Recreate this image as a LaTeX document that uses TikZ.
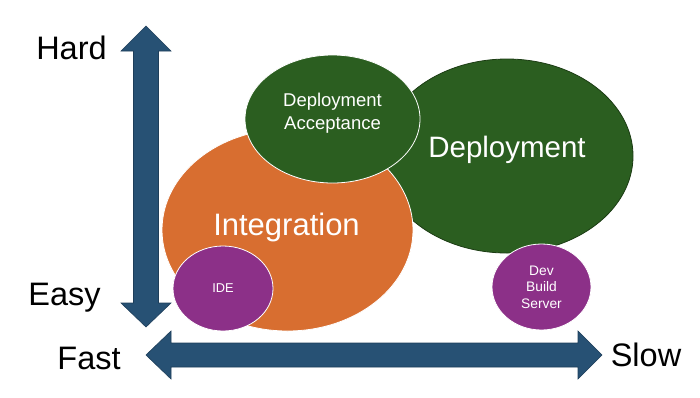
\documentclass[tikz,border=0pt]{standalone}
\usepackage{fontspec}
\setmainfont{Liberation Sans}
\usetikzlibrary{shapes.geometric}
\definecolor{arrowblue}{RGB}{39,81,116}
\definecolor{arrowedge}{RGB}{30,62,90}
\definecolor{intorange}{RGB}{216,110,48}
\definecolor{depgreen}{RGB}{43,94,32}
\definecolor{depedge}{RGB}{28,60,20}
\definecolor{idepurple}{RGB}{140,48,136}
\tikzset{
  blob/.style={ellipse, inner sep=0pt, text=white, align=center, draw=white, line width=0.8pt},
  blobtext/.style={text=white, align=center, inner sep=0pt},
  axisarrow/.style={fill=arrowblue, draw=arrowedge, line width=0.6pt, line join=miter},
  axislabel/.style={font=\fontsize{32.5}{36}\selectfont, text=black, inner sep=0pt}
}
\begin{document}
\begin{tikzpicture}[x=1pt,y=-1pt]
\useasboundingbox (0,0) rectangle (700,397);
% axes
\draw[axisarrow] (146,26) -- (171,51) -- (158.5,51) -- (158.5,303) -- (171,303) -- (146,327)
  -- (121,303) -- (133.5,303) -- (133.5,51) -- (121,51) -- cycle;
\draw[axisarrow] (146,355) -- (171,331) -- (171,343) -- (578,343) -- (578,331) -- (602,355)
  -- (578,379) -- (578,367) -- (171,367) -- (171,379) -- cycle;
% ellipses
\node[blob, fill=depgreen, draw=depedge, minimum width=252pt, minimum height=194pt] (dep) at (507,156) {};
\node[blobtext, font=\fontsize{29.5}{32}\selectfont] (deplabel) at (507,150) {Deployment};
\node[blob, fill=intorange, minimum width=251pt, minimum height=202pt] (int) at (287.5,230) {};
\node[blobtext, font=\fontsize{31}{34}\selectfont] (intlabel) at (286.5,227) {Integration};
\node[blob, fill=depgreen, minimum width=175pt, minimum height=128pt] (da) at (332.5,119) {};
\node[blobtext, font=\fontsize{18.5}{23}\selectfont] (dalabel) at (332.5,113) {Deployment\\Acceptance};
\node[blob, fill=idepurple, minimum width=100pt, minimum height=85pt,
  font=\fontsize{12.8}{14}\selectfont] (ide) at (223,288.5) {IDE};
\node[blob, fill=idepurple, minimum width=99pt, minimum height=86pt,
  font=\fontsize{13.8}{16.5}\selectfont] (dbs) at (541.5,287) {Dev\\Build\\Server};
% labels
\node[axislabel] (hard) at (71.5,48) {Hard};
\node[axislabel] (easy) at (64.5,298) {Easy};
\node[axislabel] (fast) at (89,358) {Fast};
\node[axislabel] (slow) at (646,355) {Slow};
\end{tikzpicture}
\end{document}
